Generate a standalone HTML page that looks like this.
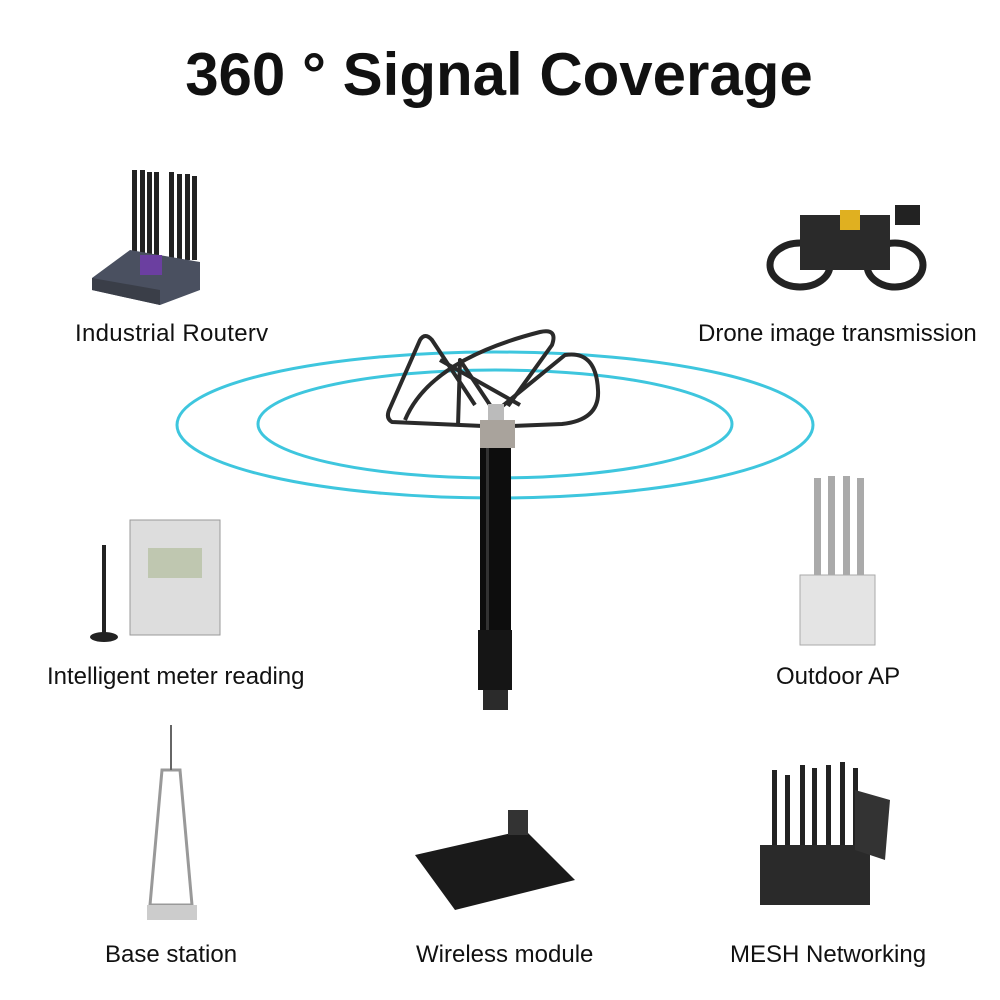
<!DOCTYPE html>
<html><head><meta charset="utf-8"><style>
body{margin:0;background:#fff;}
.l{position:absolute;font-family:"Liberation Sans",sans-serif;font-size:24px;color:#111;white-space:nowrap;}
</style></head><body>
<div style="position:relative;width:1000px;height:1000px;overflow:hidden">
<div style="position:absolute;left:0;width:998px;top:40px;text-align:center;font-family:'Liberation Sans',sans-serif;font-weight:bold;font-size:60px;color:#111">360 ° Signal Coverage</div>
<svg width="1000" height="1000" style="position:absolute;left:0;top:0">
<ellipse cx="495" cy="425" rx="318" ry="73" fill="none" stroke="#3ec6de" stroke-width="3"/>
<ellipse cx="495" cy="424" rx="237" ry="54" fill="none" stroke="#3ec6de" stroke-width="3"/>
<g fill="none" stroke="#2a2a2a" stroke-width="4" stroke-linejoin="round">
<path d="M483 426 L392 422 Q385 418 390 408 L420 340 Q425 332 432 340 L475 405"/>
<path d="M405 420 Q430 360 540 332 Q558 328 552 345 L508 406"/>
<path d="M458 426 L460 360 L492 408"/>
<path d="M512 426 L562 424 Q600 420 598 390 Q596 350 565 355 L500 408"/>
<path d="M440 360 L520 405"/>
</g>
<rect x="488" y="404" width="16" height="18" fill="#bbb"/>
<rect x="480" y="420" width="35" height="28" fill="#a9a39c"/>
<rect x="480" y="448" width="31" height="182" fill="#0d0d0d"/>
<rect x="486" y="448" width="3" height="182" fill="#333"/>
<rect x="478" y="630" width="34" height="60" fill="#151515"/>
<rect x="483" y="690" width="25" height="20" fill="#2b2b2b"/>
<g fill="#222"><rect x="132" y="170" width="5" height="90"/><rect x="140" y="170" width="5" height="90"/><rect x="147" y="172" width="5" height="88"/><rect x="154" y="172" width="5" height="88"/><rect x="169" y="172" width="5" height="88"/><rect x="177" y="174" width="5" height="86"/><rect x="185" y="174" width="5" height="86"/><rect x="192" y="176" width="5" height="84"/></g>
<polygon points="92,278 130,250 200,262 200,290 160,305 92,290" fill="#4a5060"/>
<polygon points="92,278 160,290 160,305 92,290" fill="#3a3e48"/>
<rect x="140" y="255" width="22" height="20" fill="#6b3fa0"/>
<ellipse cx="800" cy="265" rx="30" ry="22" fill="none" stroke="#222" stroke-width="7"/>
<ellipse cx="895" cy="265" rx="28" ry="22" fill="none" stroke="#222" stroke-width="7"/>
<rect x="800" y="215" width="90" height="55" fill="#2a2a2a"/>
<rect x="895" y="205" width="25" height="20" fill="#222"/>
<rect x="840" y="210" width="20" height="20" fill="#e0b020"/>
<rect x="130" y="520" width="90" height="115" fill="#ddd" stroke="#999"/>
<rect x="148" y="548" width="54" height="30" fill="#bfc7b0"/>
<rect x="102" y="545" width="4" height="90" fill="#222"/>
<ellipse cx="104" cy="637" rx="14" ry="5" fill="#222"/>
<g fill="#aaa"><rect x="814" y="478" width="7" height="100"/><rect x="828" y="476" width="7" height="100"/><rect x="843" y="476" width="7" height="100"/><rect x="857" y="478" width="7" height="100"/></g>
<rect x="800" y="575" width="75" height="70" fill="#e4e4e4" stroke="#aaa"/>
<polygon points="162,770 180,770 192,905 150,905" fill="none" stroke="#999" stroke-width="3"/>
<line x1="171" y1="725" x2="171" y2="770" stroke="#666" stroke-width="2"/>
<rect x="147" y="905" width="50" height="15" fill="#ccc"/>
<polygon points="415,855 525,830 575,880 455,910" fill="#1a1a1a"/>
<rect x="508" y="810" width="20" height="25" fill="#333"/>
<g fill="#222"><rect x="772" y="770" width="5" height="90"/><rect x="785" y="775" width="5" height="85"/><rect x="800" y="765" width="5" height="95"/><rect x="812" y="768" width="5" height="92"/><rect x="826" y="765" width="5" height="95"/><rect x="840" y="762" width="5" height="98"/><rect x="853" y="768" width="5" height="92"/></g>
<rect x="760" y="845" width="110" height="60" fill="#2a2a2a"/>
<polygon points="855,790 890,800 885,860 855,850" fill="#333"/>
</svg>
<div class="l" style="left:75px;top:320px;letter-spacing:0.3px">Industrial Routerv</div>
<div class="l" style="left:698px;top:320px">Drone image transmission</div>
<div class="l" style="left:47px;top:663px">Intelligent meter reading</div>
<div class="l" style="left:776px;top:663px">Outdoor AP</div>
<div class="l" style="left:105px;top:941px">Base station</div>
<div class="l" style="left:416px;top:941px">Wireless module</div>
<div class="l" style="left:730px;top:941px">MESH Networking</div>
</div>
</body></html>
